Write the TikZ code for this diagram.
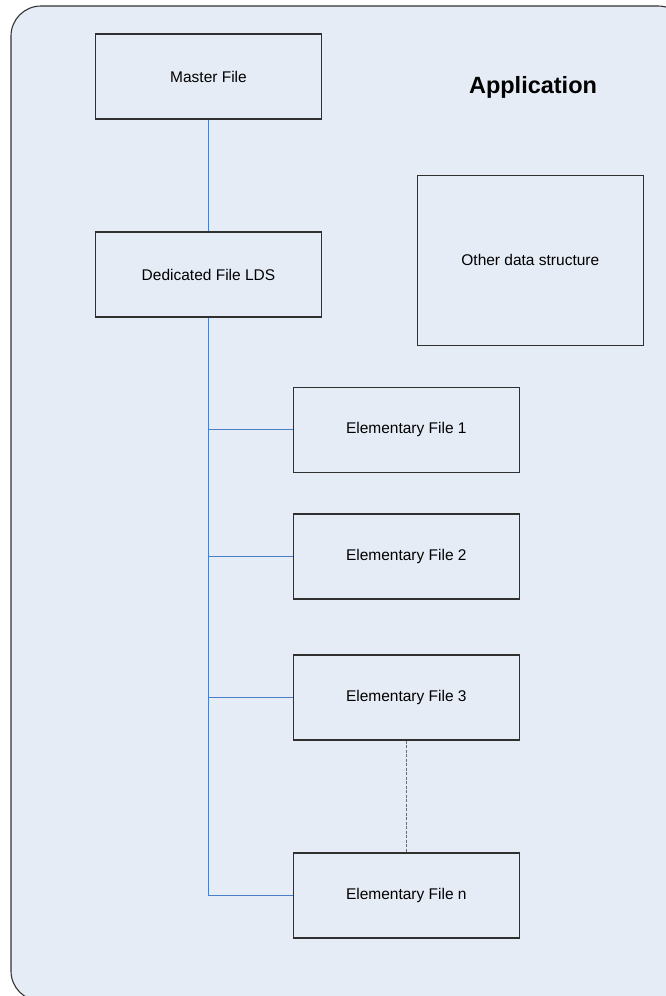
\documentclass[tikz,border=0pt]{standalone}
\usepackage{fontspec}
\setmainfont{Liberation Sans}
\definecolor{bgc}{HTML}{E6ECF6}
\definecolor{lineblue}{HTML}{4A7EC8}
\definecolor{boxline}{HTML}{303030}
\definecolor{dashgray}{HTML}{6A6A70}
\begin{document}
\begin{tikzpicture}[x=1pt,y=-1pt,
  filebox/.style={draw=boxline, line width=1.1pt, fill=bgc, minimum width=226pt, minimum height=85pt, inner sep=0pt, font=\fontsize{15.5}{18}\selectfont},
  link/.style={draw=lineblue, line width=0.9pt},
  dotlink/.style={draw=dashgray, line width=1.6pt, dash pattern=on 3pt off 1.5pt},
  outer/.style={draw=black!80, line width=1.1pt, fill=bgc, rounded corners=30pt}
  ]
\useasboundingbox (0,0) rectangle (666,996);
\clip (0,0) rectangle (666,996);
\fill[white] (0,0) rectangle (666,996);
\path[outer] (11,6) rectangle (688,1001);
\node[font=\fontsize{23.5}{28}\selectfont\bfseries] (app) at (533,87) {Application};
\node[filebox] (master) at (208.5,76.5) {Master File};
\node[filebox] (ded) at (208.5,274.5) {Dedicated File LDS};
\node[filebox, minimum height=170pt] (other) at (530.3,260.2) {Other data structure};
\node[filebox] (e1) at (406.3,429.7) {Elementary File 1};
\node[filebox] (e2) at (406.3,556.5) {Elementary File 2};
\node[filebox] (e3) at (406.3,697.5) {Elementary File 3};
\node[filebox] (en) at (406.3,895.5) {Elementary File n};
\draw[link] (master.south) -- (ded.north);
\draw[link] (ded.south) |- (en.west);
\draw[link] (ded.south |- e1.west) -- (e1.west);
\draw[link] (ded.south |- e2.west) -- (e2.west);
\draw[link] (ded.south |- e3.west) -- (e3.west);
\draw[dotlink] (e3.south) -- (en.north);
\end{tikzpicture}
\end{document}
